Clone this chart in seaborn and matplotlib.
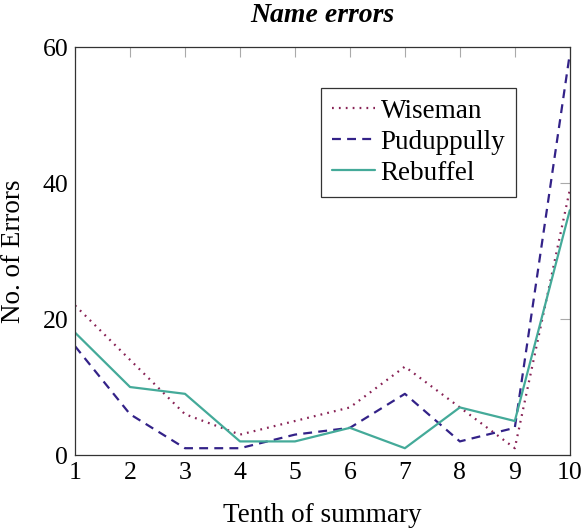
import pandas as pd
import matplotlib
matplotlib.use("Agg")
import matplotlib.pyplot as plt
import seaborn as sns

tenths = [1, 2, 3, 4, 5, 6, 7, 8, 9, 10]
wiseman = [22, 14, 6, 3, 5, 7, 13, 7, 1, 39]
puduppully = [16, 6, 1, 1, 3, 4, 9, 2, 4, 59]
rebuffel = [18, 10, 9, 2, 2, 4, 1, 7, 5, 36]

series_names = ["Wiseman", "Puduppully", "Rebuffel"]
colors = {"Wiseman": "#882255", "Puduppully": "#332288", "Rebuffel": "#44AA99"}
dashes = {"Wiseman": (0.8, 2.3), "Puduppully": (4.0, 2.8), "Rebuffel": ""}


def build_frame():
    rows = []
    for name, vals in zip(series_names, [wiseman, puduppully, rebuffel]):
        for x, v in zip(tenths, vals):
            rows.append({"tenth": x, "errors": v, "system": name})
    return pd.DataFrame(rows)


def draw(df):
    sns.set_style("white")
    plt.rcParams["font.family"] = ["Liberation Serif", "DejaVu Serif"]
    plt.rcParams["text.color"] = "black"
    plt.rcParams["axes.labelcolor"] = "black"

    fig = plt.figure(figsize=(5.82, 5.30), dpi=100)
    ax = fig.add_axes([0.129, 0.1415, 0.850, 0.7695])

    sns.lineplot(data=df, x="tenth", y="errors", hue="system", style="system",
                 palette=colors, dashes=dashes, hue_order=series_names,
                 style_order=series_names, linewidth=1.6, ax=ax)

    ax.set_xlim(1, 10)
    ax.set_ylim(0, 60)
    ax.set_xticks(tenths)
    ax.set_yticks([0, 20, 40, 60])
    ax.tick_params(direction="in", length=7, width=0.8, color="#aaaaaa",
                   labelcolor="black", top=True, right=True, labelsize=18.5, pad=5)
    for s in ax.spines.values():
        s.set_color("#333333")
        s.set_linewidth(0.9)

    ax.set_xlabel("Tenth of summary", fontsize=19.5, labelpad=14)
    ax.set_ylabel("No. of Errors", fontsize=19.5, labelpad=12)
    ax.set_title("Name errors", fontsize=20, fontweight="bold", style="italic", pad=18)

    leg = ax.legend(loc="upper left", bbox_to_anchor=(0.497, 0.9), fontsize=19.5,
                    frameon=True, fancybox=False, edgecolor="black",
                    handlelength=1.6, handletextpad=0.2, borderpad=0.4,
                    borderaxespad=0, labelspacing=0.22)
    leg.get_frame().set_linewidth(0.9)

    fig.savefig("out.png", dpi=100)


if __name__ == "__main__":
    draw(build_frame())
